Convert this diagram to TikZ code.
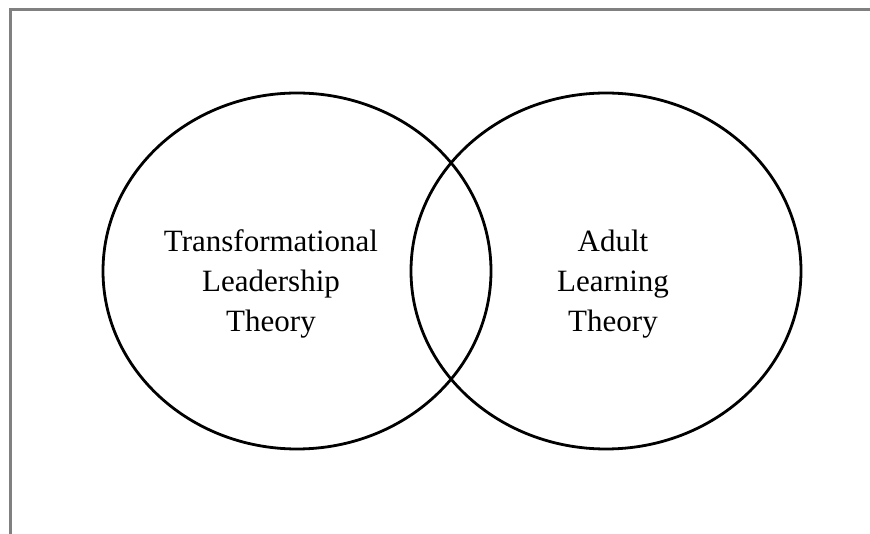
\documentclass[tikz,border=0pt]{standalone}
\usepackage{fontspec}
\usetikzlibrary{shapes.geometric}
\setmainfont{Liberation Serif}
\begin{document}
\begin{tikzpicture}[x=1pt,y=-1pt,
  frameline/.style={draw=black!50,line width=3pt},
  setcircle/.style={draw=black,line width=2.8pt,ellipse,inner sep=0pt},
  setlabel/.style={align=center,font=\fontsize{31}{40}\selectfont,inner sep=0pt}]
\useasboundingbox (0,0) rectangle (870,534);
% open frame along the top and left edges
\coordinate (ftl) at (10,10);
\coordinate (ftr) at (870,10);
\coordinate (fbl) at (10,534);
\draw[frameline] (ftr) -- (ftl) -- (fbl);
% the two overlapping sets
\node[setcircle,minimum width=388pt,minimum height=356pt] (left) at (297,271) {};
\node[setcircle,minimum width=390pt,minimum height=356pt] (right) at (606,271) {};
\node[setlabel] (tl) at (271,284) {Transformational\\Leadership\\Theory};
\node[setlabel] (al) at (613,284) {Adult\\Learning\\Theory};
\end{tikzpicture}
\end{document}
